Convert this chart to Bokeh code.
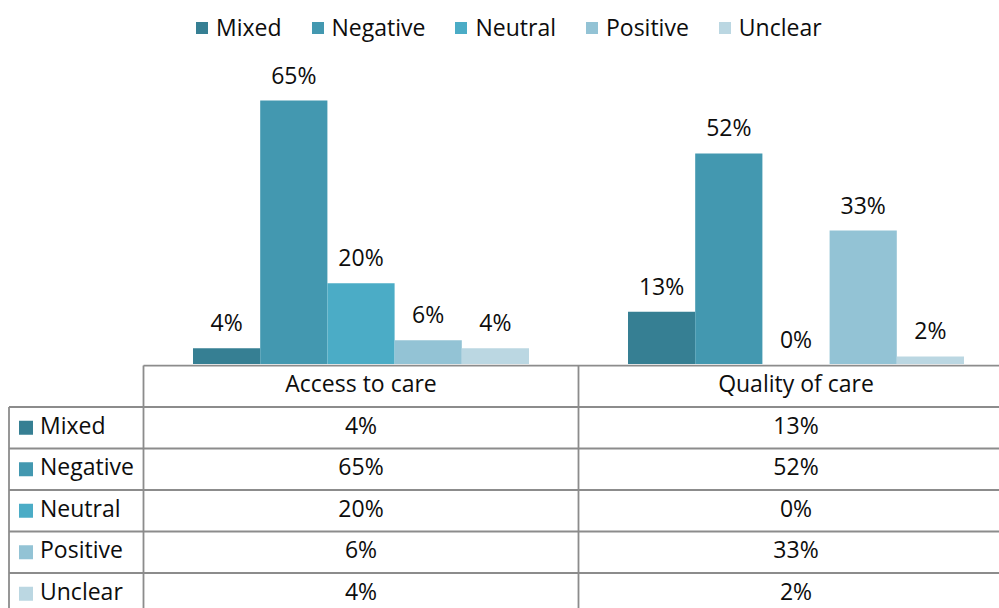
from bokeh.plotting import figure
from bokeh.layouts import column
from bokeh.models import Range1d, Legend, LegendItem, ColumnDataSource
from bokeh.core.properties import value
from bokeh.embed import file_html
from bokeh.resources import INLINE

# ---- data ----
categories = ["Access to care", "Quality of care"]
series = ["Mixed", "Negative", "Neutral", "Positive", "Unclear"]
access_values = [4, 65, 20, 6, 4]
quality_values = [13, 52, 0, 33, 2]
colors = ["#367f93", "#4398b0", "#4bacc6", "#93c3d5", "#bbd7e2"]

# ---- style ----
FONT = "Open Sans"
FS = "23px"
TXT = "#0d0d0d"
LINE = "#8c8c8c"
W = 999
H1 = 364
H2 = 244
PX_PER_CAT = 435.0
PX_PER_PCT = 4.06
ROW_PX = 41.5
BAR_W = 67.2 / PX_PER_CAT
TXT_OFF = -3

x_range = Range1d(-143 / PX_PER_CAT, 856 / PX_PER_CAT)

p = figure(width=W, height=H1, x_range=x_range, y_range=Range1d(0, H1 / PX_PER_PCT),
           output_backend="svg", toolbar_location=None, min_border=0,
           x_axis_location=None, y_axis_location=None, outline_line_color=None)
p.grid.visible = False

items = []
centers = [i + 0.5 for i in range(len(categories))]
for i, s in enumerate(series):
    off = (i - 2) * BAR_W
    vals = [access_values[i], quality_values[i]]
    src = ColumnDataSource(dict(x=[c + off for c in centers], top=vals,
                                lab=[f"{v}%" for v in vals]))
    r = p.vbar(x="x", top="top", bottom=0, width=BAR_W, source=src,
               fill_color=colors[i], line_color=None)
    p.text(x="x", y="top", text="lab", source=src, y_offset=-26,
           text_align="center", text_baseline="middle",
           text_font=value(FONT), text_font_size=FS, text_color=TXT)
    items.append(LegendItem(label=s, renderers=[r]))

legend = Legend(items=items, orientation="horizontal", location=(194, 321),
                padding=0, margin=0, spacing=28, label_standoff=7,
                glyph_width=15, glyph_height=15,
                label_text_font=FONT, label_text_font_size=FS, label_text_color=TXT,
                border_line_color=None, background_fill_alpha=0)
p.add_layout(legend)

# ---- data table ----
n_rows = len(series)
t = figure(width=W, height=H2, x_range=x_range,
           y_range=Range1d(243 / ROW_PX, -1 / ROW_PX),
           output_backend="svg", toolbar_location=None, min_border=0,
           x_axis_location=None, y_axis_location=None, outline_line_color=None)
t.grid.visible = False

left = -134.5 / PX_PER_CAT
right = float(len(categories))
bottom = n_rows + 2
# horizontal lines
hx0 = [0.0] + [left] * n_rows
hx1 = [right] * (n_rows + 1)
hy = [0.0] + [float(k) for k in range(1, n_rows + 1)]
t.segment(x0=hx0, y0=hy, x1=hx1, y1=hy, line_color=LINE, line_width=1.8)
# vertical lines
vx = [left] + [float(k) for k in range(len(categories) + 1)]
vy0 = [1.0] + [0.0] * (len(categories) + 1)
vy1 = [bottom] * len(vx)
t.segment(x0=vx, y0=vy0, x1=vx, y1=vy1, line_color=LINE, line_width=1.8)

# header
t.text(x=centers, y=[0.5] * len(categories), text=categories, y_offset=TXT_OFF,
       text_align="center", text_baseline="middle",
       text_font=value(FONT), text_font_size=FS, text_color=TXT)

# row headers
row_y = [k + 1.5 for k in range(n_rows)]
t.scatter(x=[left + 17 / PX_PER_CAT] * n_rows, y=row_y, marker="square", size=14,
          fill_color=colors, line_color=None)
t.text(x=[left + 31 / PX_PER_CAT] * n_rows, y=row_y, text=series, y_offset=TXT_OFF,
       text_align="left", text_baseline="middle",
       text_font=value(FONT), text_font_size=FS, text_color=TXT)

# values
vx_t = [centers[0]] * n_rows + [centers[1]] * n_rows
vy_t = row_y + row_y
vtxt = [f"{v}%" for v in access_values] + [f"{v}%" for v in quality_values]
t.text(x=vx_t, y=vy_t, text=vtxt, y_offset=TXT_OFF, text_align="center", text_baseline="middle",
       text_font=value(FONT), text_font_size=FS, text_color=TXT)

layout = column(p, t, spacing=0)
open("out.html", "w").write(file_html(layout, INLINE))
